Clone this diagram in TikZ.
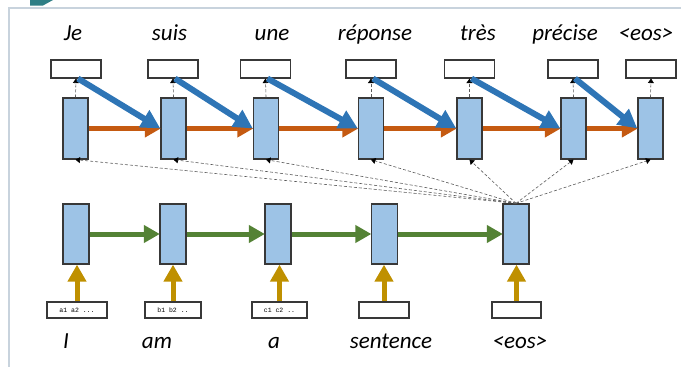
\documentclass[tikz,border=0pt]{standalone}
\usepackage{fontspec}
\setmainfont{Carlito}
\newfontfamily\smallmono{Liberation Mono}
\usetikzlibrary{arrows.meta}
\definecolor{cellfill}{HTML}{9DC3E6}
\definecolor{celldraw}{HTML}{383838}
\definecolor{attnblue}{HTML}{2E75B6}
\definecolor{decorange}{HTML}{C55A11}
\definecolor{encgreen}{HTML}{548235}
\definecolor{inyellow}{HTML}{BF9000}
\definecolor{framegray}{HTML}{C8D3DD}
\definecolor{tabteal}{HTML}{2F7F86}
\begin{document}
\begin{tikzpicture}[x=1pt,y=-1pt,
  cell/.style={draw=celldraw,fill=cellfill,line width=1.3pt,minimum width=25pt,minimum height=61pt,inner sep=0pt},
  outbox/.style={draw=celldraw,fill=white,line width=1.1pt,minimum width=50pt,minimum height=18pt,inner sep=0pt},
  inbox/.style={draw=celldraw,fill=white,line width=1.1pt,minimum height=16pt,inner sep=0pt,font=\smallmono\fontsize{6.5}{7}\selectfont},
  word/.style={anchor=base,font=\itshape\fontsize{23}{26}\selectfont,inner sep=0pt},
  recur/.style={-{Triangle[length=16pt,width=17pt]},line width=5pt,shorten >=-0.5pt},
  feed/.style={-{Triangle[length=19pt,width=19pt]},line width=6pt},
  lift/.style={-{Triangle[length=17pt,width=18pt]},line width=5pt,inyellow},
  peek/.style={-{Triangle[length=4.5pt,width=6pt,color=black]},densely dashed,line width=0.6pt,black!65},
]
\useasboundingbox (0,0) rectangle (681,367);

% frame and tab
\draw[framegray,line width=2pt] (9,367) -- (9,8) -- (681,8);
\fill[tabteal] (30,0) -- (53,0) -- (43,5.5) -- (30,5.5) -- cycle;

% decoder output words
\foreach \w/\x in {Je/73,suis/169.5,une/272,réponse/375,très/478,précise/565,<eos>/646}
  \node[word] at (\x,40) {\w};

% decoder output boxes
\foreach \i/\x in {1/76,2/173,3/265.5,4/371,5/469.5,6/573,7/651}
  \node[outbox] (o\i) at (\x,69) {};

% decoder cells
\foreach \i/\x in {1/75.5,2/173.5,3/266,4/371,5/469.5,6/573.5,7/650.5}
  \node[cell] (d\i) at (\x,128.5) {};

% encoder cells
\foreach \i/\x in {1/76,2/173,3/278,4/384.5,5/516}
  \node[cell,minimum width=26pt,minimum height=60pt] (e\i) at (\x,234) {};

% encoder input boxes
\node[inbox,minimum width=60pt] (i1) at (77,310) {a1 a2 ...};
\node[inbox,minimum width=56pt] (i2) at (173,310) {b1 b2 ..};
\node[inbox,minimum width=55pt] (i3) at (279.5,310) {c1 c2 ..};
\node[inbox,minimum width=50pt] (i4) at (384,310) {};
\node[inbox,minimum width=49pt] (i5) at (516.5,310) {};

% encoder input words
\foreach \w/\x in {I/66,am/157,a/274,sentence/391,<eos>/520}
  \node[word] at (\x,348) {\w};

% context links from the last encoder state to every decoder cell
\foreach \i in {1,...,7}
  \draw[peek] (e5.north) -- (d\i.south);

% decoder cell to output box
\foreach \i in {1,...,7}
  \draw[peek] (d\i.north) -- (o\i.south);

% decoder recurrence
\foreach \i [evaluate=\i as \j using int(\i+1)] in {1,...,6}
  \draw[recur,decorange] (d\i.east) -- (d\j.west);

% previous output fed into next decoder cell
\foreach \i [evaluate=\i as \j using int(\i+1)] in {1,...,6}
  \draw[feed,attnblue] ([xshift=2pt]o\i.south) -- (d\j.west);

% encoder recurrence
\foreach \i [evaluate=\i as \j using int(\i+1)] in {1,...,4}
  \draw[recur,encgreen] (e\i.east) -- (e\j.west);

% inputs into encoder cells
\foreach \i in {1,...,5}
  \draw[lift] (i\i.north) -- (i\i.north |- e\i.south);
\end{tikzpicture}
\end{document}
